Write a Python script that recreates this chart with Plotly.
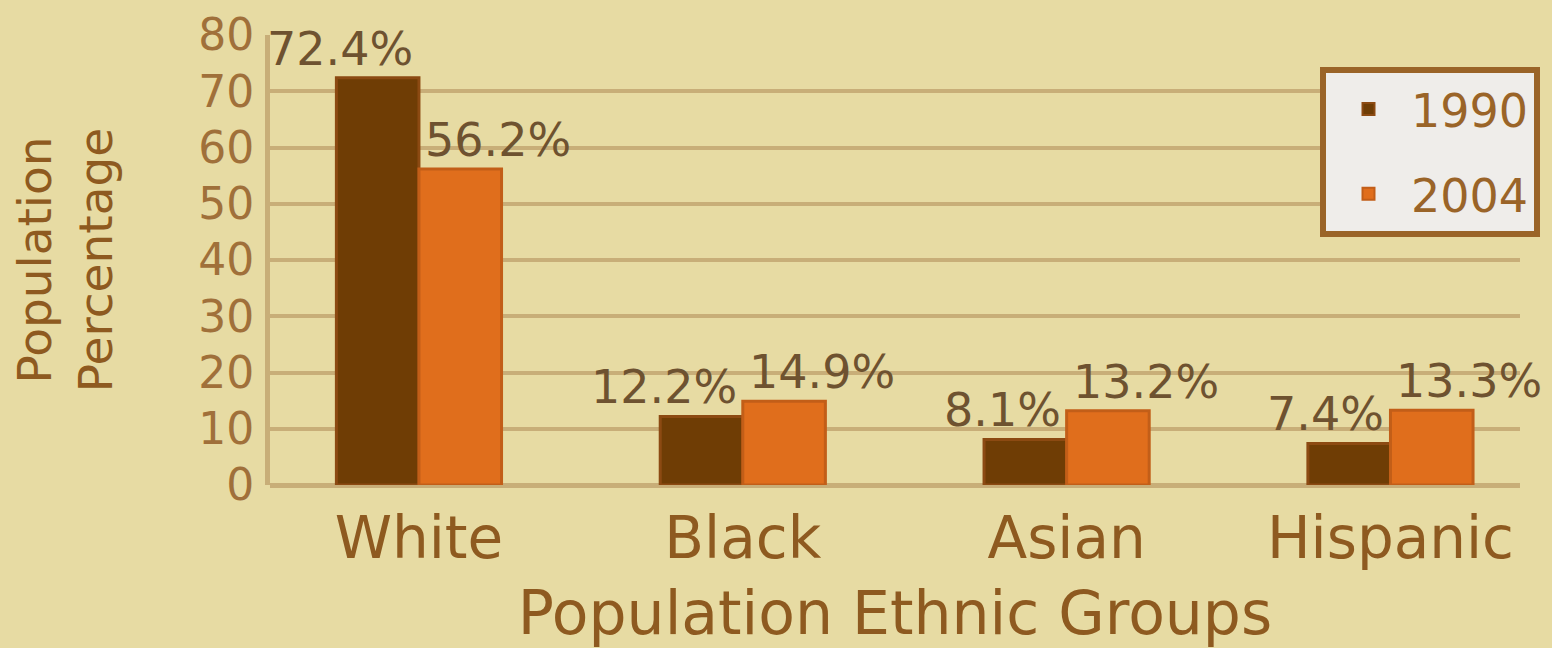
import plotly.graph_objects as go

categories = ["White", "Black", "Asian", "Hispanic"]
values_1990 = [72.4, 12.2, 8.1, 7.4]
values_2004 = [56.2, 14.9, 13.2, 13.3]
series_names = ["1990", "2004"]
y_ticks = [0, 10, 20, 30, 40, 50, 60, 70, 80]

BG = "#E7DBA3"
GRID = "#C8AE78"
TXT = "#8E5A20"
LBL = "#6E5230"
FONT = "DejaVu Sans, Liberation Sans, Arial"

fig = go.Figure()
fig.add_trace(go.Bar(
    x=categories, y=values_1990, name=series_names[0], legendgroup="a",
    marker=dict(color="#6F3D05", line=dict(color="#8C4A12", width=3)),
))
fig.add_trace(go.Bar(
    x=categories, y=values_2004, name=series_names[1], legendgroup="b",
    marker=dict(color="#E06E1C", line=dict(color="#C25E18", width=3)),
))

for c, v in zip(categories, values_1990):
    fig.add_annotation(x=c, y=v, text=f"{v}%", showarrow=False, yanchor="bottom",
                       xanchor="right", xshift=-4, yshift=0,
                       font=dict(family=FONT, size=46, color=LBL))
for c, v in zip(categories, values_2004):
    fig.add_annotation(x=c, y=v, text=f"{v}%", showarrow=False, yanchor="bottom",
                       xanchor="left", xshift=4, yshift=0,
                       font=dict(family=FONT, size=46, color=LBL))

fig.update_layout(
    width=1552, height=648,
    paper_bgcolor=BG, plot_bgcolor=BG,
    margin=dict(l=270, r=32, t=35, b=163),
    barmode="group", bargap=0.49, bargroupgap=0.0,
    font=dict(family=FONT, color=TXT),
    showlegend=True,
    legend=dict(
        x=1.016, xanchor="right", y=0.93, yanchor="top",
        bgcolor="#EFEDEA", bordercolor="#9A6428", borderwidth=6,
        font=dict(family=FONT, size=46, color="#9A6428"),
        tracegroupgap=22, itemsizing="constant", itemwidth=75,
    ),
    xaxis=dict(
        range=[-0.46, 3.40],
        showgrid=False, showline=False, ticks="",
        ticklabelstandoff=14,
        tickfont=dict(family=FONT, size=58, color=TXT),
        title=dict(text="Population Ethnic Groups", font=dict(family=FONT, size=60, color=TXT), standoff=20),
        automargin=False,
    ),
    yaxis=dict(
        range=[0, 80], tickvals=y_ticks,
        showgrid=True, gridcolor=GRID, gridwidth=4,
        zeroline=True, zerolinecolor=GRID, zerolinewidth=5,
        showline=True, linecolor=GRID, linewidth=5,
        ticks="", ticklabelstandoff=2,
        tickfont=dict(family=FONT, size=44, color="#A0703A"),
        title=dict(text="Population<br>Percentage", font=dict(family=FONT, size=47, color=TXT), standoff=72),
        automargin=False,
    ),
)

fig.write_html("out.html", config={"displayModeBar": False},
               post_script="document.body.style.margin='0';document.body.style.overflow='hidden';")
